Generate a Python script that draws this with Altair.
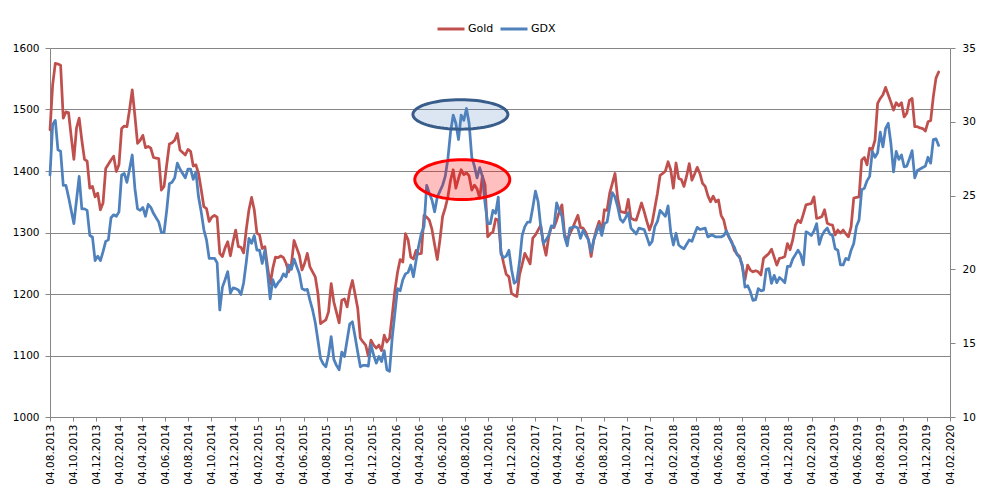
import math
import altair as alt
import pandas as pd

# ---- data (weekly, starting 04.08.2013) ----
start_date = "2013-08-04"
series_names = ["Gold", "GDX"]
series_colors = ["#C0504D", "#4F81BD"]

gold = [
    1467, 1540, 1575, 1574, 1572, 1486, 1496, 1495, 1456, 1419, 1470, 1486,
    1450, 1419, 1416, 1372, 1375, 1358, 1364, 1337, 1348, 1404, 1411, 1418,
    1424, 1399, 1410, 1469, 1473, 1472, 1500, 1532, 1490, 1445, 1450, 1458,
    1438, 1440, 1437, 1422, 1421, 1420, 1369, 1375, 1410, 1444, 1446, 1450,
    1461, 1434, 1430, 1426, 1435, 1432, 1408, 1410, 1396, 1370, 1342, 1339,
    1318, 1325, 1328, 1325, 1266, 1261, 1275, 1285, 1262, 1285, 1304, 1277,
    1276, 1267, 1305, 1337, 1357, 1337, 1299, 1296, 1274, 1277, 1245, 1216,
    1242, 1260, 1259, 1262, 1259, 1250, 1236, 1248, 1287, 1275, 1263, 1239,
    1250, 1266, 1244, 1236, 1228, 1201, 1152, 1155, 1158, 1171, 1217, 1187,
    1170, 1153, 1190, 1192, 1179, 1205, 1222, 1200, 1177, 1128, 1122, 1117,
    1099, 1125, 1117, 1112, 1117, 1108, 1133, 1122, 1128, 1165, 1205, 1235,
    1256, 1252, 1298, 1288, 1260, 1257, 1271, 1265, 1266, 1328, 1325, 1320,
    1305, 1280, 1256, 1288, 1326, 1340, 1358, 1385, 1402, 1372, 1388, 1402,
    1394, 1397, 1392, 1369, 1377, 1371, 1356, 1392, 1378, 1293, 1298, 1301,
    1322, 1320, 1270, 1250, 1232, 1228, 1201, 1198, 1196, 1231, 1248, 1266,
    1258, 1249, 1291, 1296, 1304, 1312, 1282, 1263, 1293, 1309, 1308, 1320,
    1334, 1345, 1296, 1288, 1298, 1307, 1318, 1328, 1308, 1307, 1300, 1288,
    1261, 1288, 1305, 1318, 1302, 1337, 1336, 1364, 1380, 1396, 1356, 1334,
    1333, 1332, 1354, 1323, 1321, 1320, 1334, 1348, 1334, 1318, 1304, 1316,
    1340, 1364, 1393, 1396, 1400, 1415, 1402, 1372, 1413, 1388, 1386, 1375,
    1392, 1412, 1385, 1395, 1406, 1396, 1380, 1375, 1360, 1350, 1359, 1350,
    1353, 1328, 1320, 1301, 1292, 1285, 1271, 1265, 1261, 1244, 1223, 1247,
    1239, 1236, 1238, 1236, 1231, 1258, 1262, 1266, 1273, 1260, 1247, 1258,
    1259, 1261, 1282, 1272, 1288, 1312, 1320, 1316, 1330, 1345, 1346, 1347,
    1358, 1323, 1324, 1326, 1337, 1315, 1313, 1312, 1296, 1304, 1299, 1304,
    1298, 1293, 1309, 1356, 1357, 1358, 1418, 1422, 1410, 1437, 1435, 1450,
    1510, 1518, 1524, 1536, 1524, 1512, 1499, 1511, 1506, 1511, 1488, 1494,
    1515, 1518, 1472, 1472, 1470, 1469, 1465, 1480, 1482, 1521, 1551, 1561,
]

gdx = [
    26.4, 29.8, 30.1, 28.1, 28.0, 25.7, 25.7, 24.9, 24.0, 23.1, 24.7, 26.3,
    24.1, 24.1, 24.0, 22.3, 22.2, 20.6, 20.9, 20.6, 21.2, 21.9, 22.0, 23.5,
    23.7, 23.6, 23.9, 26.4, 26.5, 25.9, 26.8, 27.75, 25.5, 24.1, 24.0, 24.2,
    23.6, 24.4, 24.2, 23.8, 23.5, 23.2, 22.5, 22.5, 24.0, 25.8, 25.9, 26.2,
    27.2, 26.8, 26.5, 26.2, 26.8, 26.8, 26.1, 26.6, 24.9, 23.9, 22.7, 22.0,
    20.75, 20.75, 20.75, 20.45, 17.25, 18.8, 19.3, 19.85, 18.4, 18.75, 18.7, 18.6,
    18.3, 19.1, 20.5, 22.1, 21.77, 22.3, 21.3, 21.3, 20.4, 21.3, 19.8, 18.0,
    19.3, 18.8, 19.1, 19.3, 19.7, 19.5, 20.3, 20.0, 20.7, 20.2, 19.7, 18.7,
    18.6, 18.65, 17.9, 17.25, 16.4, 15.2, 13.95, 13.6, 13.4, 14.2, 15.45, 13.9,
    13.5, 13.2, 14.4, 14.1, 15.2, 16.3, 16.45, 15.45, 14.4, 13.4, 13.5, 13.5,
    13.45, 14.9, 14.2, 13.65, 14.1, 13.75, 14.5, 13.2, 13.1, 15.35, 17.0, 18.7,
    18.55, 19.3, 19.7, 19.8, 20.3, 19.5, 20.6, 21.6, 22.45, 22.9, 25.7, 25.15,
    24.7, 23.9, 24.9, 25.3, 25.7, 26.3, 27.5, 29.3, 30.45, 29.9, 28.8, 30.45,
    30.1, 30.9, 29.9, 27.6, 27.0, 26.2, 26.9, 26.3, 24.5, 23.1, 23.1, 24.0,
    23.8, 24.9, 21.05, 20.8, 20.9, 21.3, 20.0, 19.06, 19.2, 20.5, 22.3, 22.9,
    23.2, 23.2, 24.2, 25.3, 24.6, 22.9, 21.75, 22.0, 22.3, 22.95, 22.9, 24.5,
    24.0, 23.6, 22.2, 21.6, 22.8, 22.85, 22.9, 22.8, 22.1, 22.65, 22.3, 22.0,
    21.2, 22.0, 22.5, 23.0, 22.3, 23.1, 23.2, 24.25, 25.2, 24.9, 24.25, 23.4,
    23.2, 23.5, 23.85, 22.8, 22.6, 22.4, 22.8, 22.75, 22.7, 22.2, 21.65, 21.9,
    22.9, 23.25, 24.0, 23.8, 23.6, 24.3, 22.55, 21.65, 22.45, 21.65, 21.5, 21.4,
    21.7, 22.0, 21.9, 22.4, 22.85, 22.7, 22.75, 22.8, 22.2, 22.3, 22.3, 22.2,
    22.2, 22.2, 22.3, 22.6, 22.2, 21.8, 21.5, 21.0, 20.8, 20.3, 18.8, 18.9,
    18.5, 17.9, 17.95, 18.7, 18.55, 18.6, 20.0, 20.05, 19.05, 19.6, 19.1, 19.45,
    19.3, 19.1, 20.2, 20.2, 20.7, 21.0, 21.3, 21.0, 20.3, 22.55, 22.45, 22.3,
    22.6, 23.1, 21.7, 22.3, 22.6, 22.8, 22.4, 22.3, 21.4, 21.3, 20.3, 20.3,
    20.75, 20.65, 21.3, 21.75, 22.9, 23.35, 25.4, 25.5, 26.0, 26.3, 28.0, 27.6,
    27.9, 29.3, 28.3, 29.55, 29.9, 28.55, 26.6, 28.0, 27.45, 27.75, 26.95, 27.0,
    27.5, 28.05, 26.2, 26.7, 26.8, 26.9, 27.0, 27.6, 27.2, 28.8, 28.85, 28.4,
]

x_tick_labels = [
    "04.08.2013", "04.10.2013", "04.12.2013",
    "04.02.2014", "04.04.2014", "04.06.2014", "04.08.2014", "04.10.2014", "04.12.2014",
    "04.02.2015", "04.04.2015", "04.06.2015", "04.08.2015", "04.10.2015", "04.12.2015",
    "04.02.2016", "04.04.2016", "04.06.2016", "04.08.2016", "04.10.2016", "04.12.2016",
    "04.02.2017", "04.04.2017", "04.06.2017", "04.08.2017", "04.10.2017", "04.12.2017",
    "04.02.2018", "04.04.2018", "04.06.2018", "04.08.2018", "04.10.2018", "04.12.2018",
    "04.02.2019", "04.04.2019", "04.06.2019", "04.08.2019", "04.10.2019", "04.12.2019",
    "04.02.2020",
]
gold_ticks = [1000, 1100, 1200, 1300, 1400, 1500, 1600]
gdx_ticks = [10, 15, 20, 25, 30, 35]

# annotation ellipses (centre date, level on the Gold axis)
ellipse_dates = ["2016-07-22", "2016-07-27"]
ellipse_levels = [1492, 1386]

# ---- build tables ----
dates = pd.date_range(start_date, periods=len(gold), freq="7D")
long = pd.concat([
    pd.DataFrame({"date": dates, "series": "Gold", "value": gold}),
    pd.DataFrame({"date": dates, "series": "GDX", "value": gdx}),
])

tick_dates = pd.to_datetime(x_tick_labels, format="%d.%m.%Y")
tick_dt = [alt.DateTime(year=d.year, month=d.month, date=d.day) for d in tick_dates]

FONT = "DejaVu Sans"
AX = "#868686"

x_scale = alt.Scale(domain=[tick_dt[0], tick_dt[-1]])
x_enc = alt.X(
    "date:T",
    scale=x_scale,
    axis=alt.Axis(
        title=None, values=tick_dt, format="%d.%m.%Y", labelAngle=270,
        grid=False, tickSize=4, tickColor=AX, domainColor=AX,
        labelPadding=3, labelFontSize=10.5, labelFont=FONT, labelColor="#000000",
        labelOverlap=False, labelFlush=False,
    ),
)

color_enc = alt.Color(
    "series:N",
    scale=alt.Scale(domain=series_names, range=series_colors),
    legend=alt.Legend(
        title=None, orient="none", legendX=386, legendY=-34,
        direction="horizontal", symbolType="stroke", symbolSize=729,
        symbolStrokeWidth=3, labelFontSize=11, labelFont=FONT,
        labelColor="#000000", columnPadding=0, labelOffset=2,
    ),
)

base = alt.Chart(long).encode(x=x_enc, color=color_enc)

gold_line = base.transform_filter(alt.datum.series == "Gold").mark_line(
    strokeWidth=2.75, strokeJoin="round", strokeCap="round"
).encode(
    y=alt.Y(
        "value:Q",
        scale=alt.Scale(domain=[1000, 1600], nice=False, zero=False),
        axis=alt.Axis(
            title=None, orient="left", values=gold_ticks, format="d", grid=True,
            gridColor=AX, gridWidth=1, tickSize=5, tickColor=AX, domainColor=AX,
            labelPadding=6, labelFontSize=10.5, labelFont=FONT, labelColor="#000000",
        ),
    )
)

gdx_line = base.transform_filter(alt.datum.series == "GDX").mark_line(
    strokeWidth=2.75, strokeJoin="round", strokeCap="round"
).encode(
    y=alt.Y(
        "value:Q",
        scale=alt.Scale(domain=[10, 35], nice=False, zero=False),
        axis=alt.Axis(
            title=None, orient="right", values=gdx_ticks, format="d", grid=False,
            tickSize=5, tickColor=AX, domainColor=AX,
            labelPadding=7, labelFontSize=10.5, labelFont=FONT, labelColor="#000000",
        ),
    )
)


def ellipse_path(ry, n=72):
    pts = []
    for k in range(n):
        a = 2 * math.pi * k / n
        pts.append(f"{math.cos(a):.4f},{ry * math.sin(a):.4f}")
    return "M" + " L".join(pts) + " Z"


ann = pd.DataFrame({"date": pd.to_datetime(ellipse_dates), "level": ellipse_levels})

ell_y = alt.Y("level:Q", scale=alt.Scale(domain=[1000, 1600], nice=False, zero=False), axis=None)
ell_x = alt.X("date:T", scale=x_scale, axis=alt.Axis(title=None, values=tick_dt, format="%d.%m.%Y"))

ell_blue = alt.Chart(ann.iloc[[0]]).mark_point(
    shape=ellipse_path(0.31), size=95 ** 2, filled=True, fill="#4F81BD",
    fillOpacity=0.2, stroke="#385D8A", strokeWidth=3, strokeOpacity=1, opacity=1,
).encode(x=ell_x, y=ell_y)

ell_red = alt.Chart(ann.iloc[[1]]).mark_point(
    shape=ellipse_path(0.42), size=95 ** 2, filled=True, fill="#FF0000",
    fillOpacity=0.25, stroke="#FF0000", strokeWidth=3, strokeOpacity=1, opacity=1,
).encode(x=ell_x, y=ell_y)

chart = alt.layer(gold_line, gdx_line, ell_blue, ell_red).resolve_scale(
    y="independent"
).properties(
    width=900, height=369,
    autosize=alt.AutoSizeParams(type="none"),
    padding={"left": 42, "top": 40, "right": 30, "bottom": 70},
    background="white",
).configure_view(strokeWidth=0)

chart.save("out.html", embed_options={"renderer": "svg", "actions": False})
